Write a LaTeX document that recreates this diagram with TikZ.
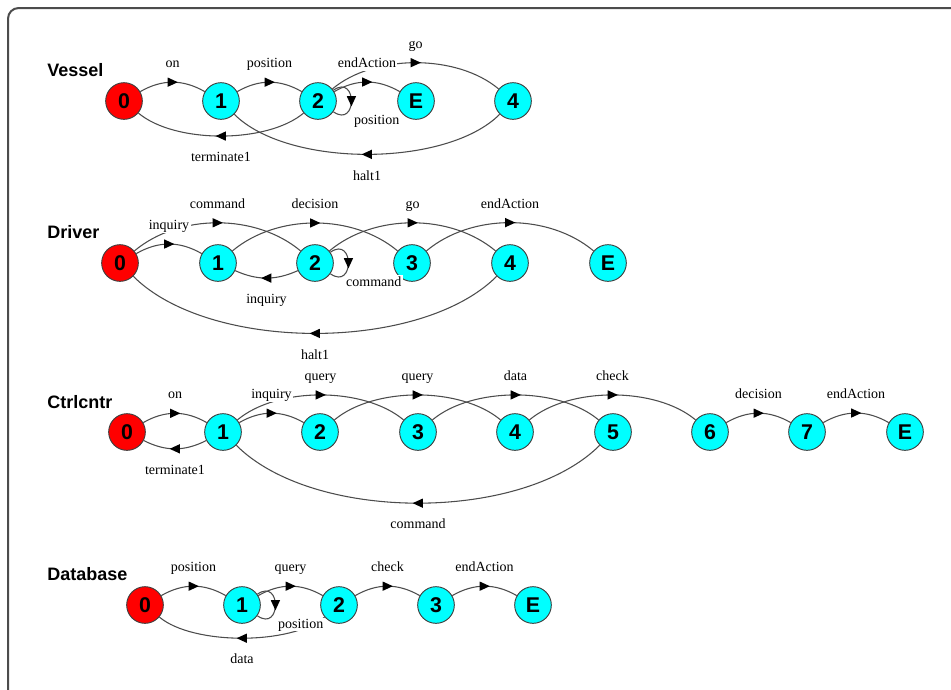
\documentclass[tikz,border=0pt]{standalone}
\usepackage{fontspec}
\setmainfont{Liberation Serif}
\newfontfamily\headfont{Liberation Sans}
\usetikzlibrary{decorations.markings}
\definecolor{stcyan}{RGB}{0,255,255}
\definecolor{stred}{RGB}{255,0,0}

\begin{document}
\begin{tikzpicture}[x=0.75pt,y=-0.75pt,
    st/.style={circle,draw=black!75,line width=0.7pt,fill=stcyan,minimum size=27.5pt,inner sep=0pt,
      font=\headfont\bfseries\fontsize{16}{16}\selectfont},
    st0/.style={st,fill=stred},
    ttl/.style={anchor=west,inner sep=0pt,font=\headfont\bfseries\fontsize{13.5}{15}\selectfont},
    tr/.style={draw=black!70,line width=0.8pt,postaction={decorate},
      decoration={markings,mark=at position 0.5 with {\fill[black] (4pt,0) -- (-3.6pt,3.5pt) -- (-3.6pt,-3.5pt) -- cycle;}}},
    lp/.style={tr,out=35,in=-35,min distance=22pt},
    lbl/.style={fill=white,inner sep=1pt,text height=1.5ex,text depth=.3ex,font=\fontsize{10.5}{12}\selectfont},
    lblup/.style={lbl,above=8pt},
    lbldn/.style={lbl,below=11pt},
    lbllp/.style={lbl,xshift=19pt,yshift=-14.5pt}]
  \useasboundingbox (0,0) rectangle (951,690);
  \draw[black!70,line width=1.5pt,rounded corners=8pt] (8,700) -- (8,8) -- (960,8);

  % Vessel
  \node[ttl] (tV) at (47,70) {Vessel};
  \node[st0] (v0) at (124,101) {0};
  \node[st] (v1) at (221,101) {1};
  \node[st] (v2) at (318,101) {2};
  \node[st] (vE) at (416,101) {E};
  \node[st] (v4) at (513,101) {4};
  \path (v0) edge[tr,bend left=30] node[lblup] {on} (v1)
        (v1) edge[tr,bend left=30] node[lblup] {position} (v2)
        (v2) edge[tr,bend left=40,looseness=.84] node[lblup] {go} (v4)
        (v2) edge[tr,bend left=30] node[lblup] {endAction} (vE)
        (v2) edge[lp] node[lbllp] {position} (v2)
        (v2) edge[tr,bend left=40,looseness=.74] node[lbldn] {terminate1} (v0)
        (v4) edge[tr,bend left=45,looseness=.73] node[lbldn] {halt1} (v1);

  % Driver
  \node[ttl] (tD) at (47,232) {Driver};
  \node[st0] (d0) at (120,263) {0};
  \node[st] (d1) at (218,263) {1};
  \node[st] (d2) at (315,263) {2};
  \node[st] (d3) at (412,263) {3};
  \node[st] (d4) at (510,263) {4};
  \node[st] (dE) at (608,263) {E};
  \path (d0) edge[tr,bend left=40,looseness=.9] node[lblup] {command} (d2)
        (d1) edge[tr,bend left=40,looseness=.9] node[lblup] {decision} (d3)
        (d2) edge[tr,bend left=40,looseness=.9] node[lblup] {go} (d4)
        (d3) edge[tr,bend left=40,looseness=.9] node[lblup] {endAction} (dE)
        (d0) edge[tr,bend left=30] node[lblup] {inquiry} (d1)
        (d2) edge[tr,bend left=24] node[lbldn] {inquiry} (d1)
        (d2) edge[lp] node[lbllp] {command} (d2)
        (d4) edge[tr,bend left=45,looseness=.76] node[lbldn] {halt1} (d0);

  % Ctrlcntr
  \node[ttl] (tC) at (47,402) {Ctrlcntr};
  \node[st0] (c0) at (127,432) {0};
  \node[st] (c1) at (223,432) {1};
  \node[st] (c2) at (320,432) {2};
  \node[st] (c3) at (418,432) {3};
  \node[st] (c4) at (515,432) {4};
  \node[st] (c5) at (613,432) {5};
  \node[st] (c6) at (710,432) {6};
  \node[st] (c7) at (807,432) {7};
  \node[st] (cE) at (905,432) {E};
  \path (c1) edge[tr,bend left=40,looseness=.8] node[lblup] {query} (c3)
        (c2) edge[tr,bend left=40,looseness=.8] node[lblup] {query} (c4)
        (c3) edge[tr,bend left=40,looseness=.8] node[lblup] {data} (c5)
        (c4) edge[tr,bend left=40,looseness=.8] node[lblup] {check} (c6)
        (c0) edge[tr,bend left=30] node[lblup] {on} (c1)
        (c1) edge[tr,bend left=30] node[lblup] {inquiry} (c2)
        (c6) edge[tr,bend left=30] node[lblup] {decision} (c7)
        (c7) edge[tr,bend left=30] node[lblup] {endAction} (cE)
        (c1) edge[tr,bend left=27] node[lbldn] {terminate1} (c0)
        (c5) edge[tr,bend left=45,looseness=.77] node[lbldn] {command} (c1);

  % Database
  \node[ttl] (tB) at (47,574) {Database};
  \node[st0] (b0) at (145,605) {0};
  \node[st] (b1) at (242,605) {1};
  \node[st] (b2) at (339,605) {2};
  \node[st] (b3) at (436,605) {3};
  \node[st] (bE) at (533,605) {E};
  \path (b2) edge[tr,bend left=40,looseness=.68] node[lbldn] {data} (b0)
        (b0) edge[tr,bend left=30] node[lblup] {position} (b1)
        (b1) edge[tr,bend left=30] node[lblup] {query} (b2)
        (b2) edge[tr,bend left=30] node[lblup] {check} (b3)
        (b3) edge[tr,bend left=30] node[lblup] {endAction} (bE)
        (b1) edge[lp] node[lbllp] {position} (b1);
\end{tikzpicture}
\end{document}
